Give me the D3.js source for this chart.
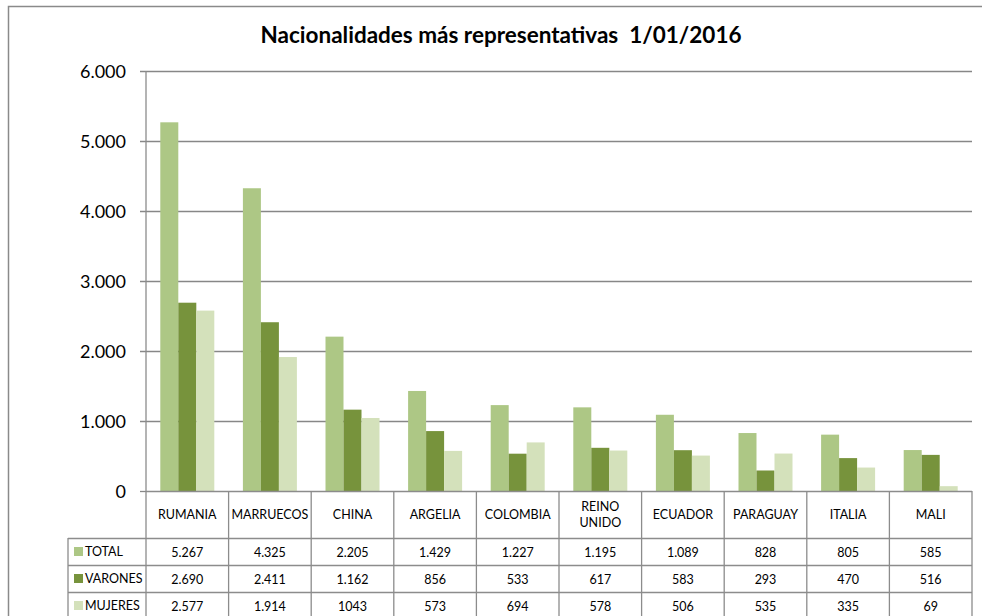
<!DOCTYPE html>
<html><head><meta charset="utf-8">
<script src="https://cdn.jsdelivr.net/npm/d3@7"></script>
<style>
html,body{margin:0;padding:0;background:#fff;}
svg{display:block;}
text{font-family:Lato,"Open Sans",sans-serif;fill:#000;}
</style></head>
<body>
<svg id="c" width="982" height="616"></svg>
<script>
const categories = ["RUMANIA","MARRUECOS","CHINA","ARGELIA","COLOMBIA","REINO UNIDO","ECUADOR","PARAGUAY","ITALIA","MALI"];
const seriesNames = ["TOTAL","VARONES","MUJERES"];
const total   = [5267,4325,2205,1429,1227,1195,1089,828,805,585];
const varones = [2690,2411,1162,856,533,617,583,293,470,516];
const mujeres = [2577,1914,1043,573,694,578,506,535,335,69];
const yTicks = [0,1000,2000,3000,4000,5000,6000];
const colors = ["#adc785","#77933c","#d4e1bb"];
// cells shown in the table without thousands separator [series, category]
const plainCells = [[2,2]];

const seriesValues = [total, varones, mujeres];
const svg = d3.select("#c");
const fmt = d3.formatLocale({decimal:",", thousands:".", grouping:[3], currency:["","€"]}).format(",d");

const L = 146, R = 972, T = 71, B = 491;
const legendX = 68;
const headerBottom = 538, rowH = 27;

const x0 = d3.scaleBand().domain(categories).range([L, R]).padding(0);
const bw = x0.bandwidth();
const x1 = d3.scaleBand().domain(seriesNames).range([14.3, bw - 14.3]).padding(0);
const y = d3.scaleLinear().domain([0, 6000]).range([B, T]);

// outer frame
svg.append("path").attr("d", `M8.5,616 V6.5 H982`).attr("fill","none").attr("stroke","#8a8a8a").attr("stroke-width",1.5);

// title
svg.append("text").attr("x", 501).attr("y", 43).attr("text-anchor","middle")
  .attr("font-size", 22.5).attr("font-weight","bold")
  .style("white-space","pre")
  .text("Nacionalidades más representativas  1/01/2016");

// gridlines + ticks
const gridColor = "#878787";
svg.append("g").selectAll("line").data(yTicks).join("line")
  .attr("x1", 140).attr("x2", d => d === 0 ? L : R)
  .attr("y1", d => Math.round(y(d)) + 0.5).attr("y2", d => Math.round(y(d)) + 0.5)
  .attr("stroke", gridColor).attr("stroke-width", 1.3);

svg.append("g").selectAll("text").data(yTicks).join("text")
  .attr("x", 126).attr("y", d => y(d) + 6.5).attr("text-anchor","end")
  .attr("font-size", 18).text(d => fmt(d));

// bars
const g = svg.append("g");
seriesNames.forEach((s, si) => {
  g.append("g").selectAll("rect").data(seriesValues[si]).join("rect")
    .attr("x", (d, i) => x0(categories[i]) + x1(s))
    .attr("width", x1.bandwidth())
    .attr("y", d => y(d))
    .attr("height", d => y(0) - y(d))
    .attr("fill", colors[si]);
});

// table lines
const lineColor = "#8c8c8c";
const tbl = svg.append("g").attr("stroke", lineColor).attr("stroke-width", 1.3);
tbl.append("line").attr("x1", L).attr("x2", L).attr("y1", T).attr("y2", 616);
tbl.append("line").attr("x1", L).attr("x2", R).attr("y1", B + 0.5).attr("y2", B + 0.5);
categories.forEach((c, i) => {
  const xx = x0(c) + bw;
  tbl.append("line").attr("x1", xx).attr("x2", xx).attr("y1", B).attr("y2", 616);
});
tbl.append("line").attr("x1", legendX).attr("x2", legendX).attr("y1", headerBottom).attr("y2", 616);
[0,1,2].forEach(r => {
  const yy = headerBottom + r * rowH + 0.5;
  tbl.append("line").attr("x1", legendX).attr("x2", R).attr("y1", yy).attr("y2", yy);
});

// category header text
const hdr = svg.append("g").attr("font-size", 12.5).attr("text-anchor","middle");
categories.forEach(c => {
  const words = c.split(" ");
  const cx = x0(c) + bw / 2;
  const t = hdr.append("text").attr("x", cx);
  if (words.length === 1) {
    t.attr("y", 519).text(c);
  } else {
    words.forEach((w, k) => t.append("tspan").attr("x", cx).attr("y", 511 + k * 16).text(w));
  }
});

// table rows
seriesNames.forEach((s, si) => {
  const yTop = headerBottom + si * rowH;
  svg.append("rect").attr("x", 74).attr("y", yTop + 9).attr("width", 9).attr("height", 9).attr("fill", colors[si]);
  svg.append("text").attr("x", 85).attr("y", yTop + 17.5).attr("font-size", 12.5).text(s);
  svg.append("g").attr("font-size", 12.5).attr("text-anchor","middle")
    .selectAll("text").data(seriesValues[si]).join("text")
    .attr("x", (d, i) => x0(categories[i]) + bw / 2)
    .attr("y", yTop + 18.5)
    .text((d, i) => plainCells.some(p => p[0] === si && p[1] === i) ? String(d) : fmt(d));
});
</script>
</body></html>
